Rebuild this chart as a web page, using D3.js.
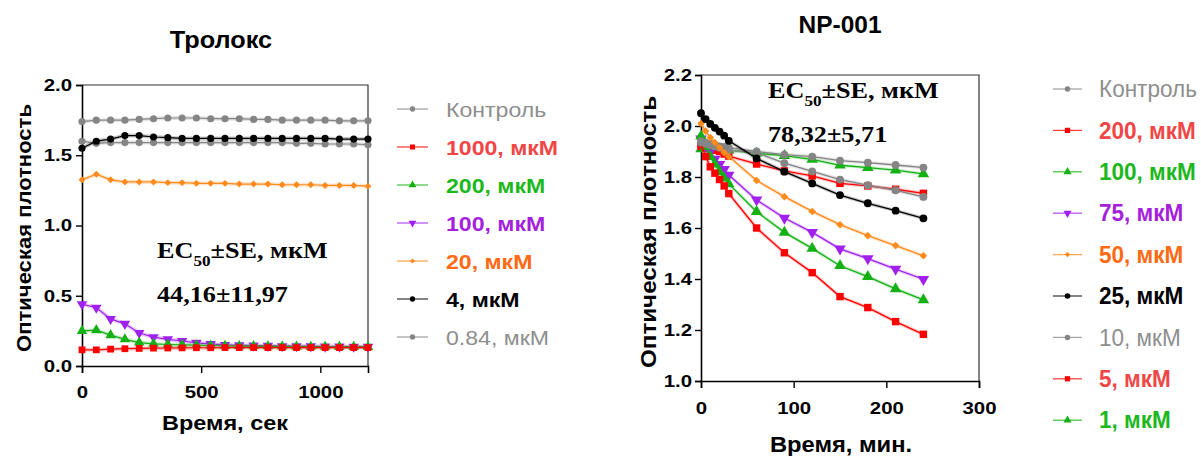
<!DOCTYPE html>
<html>
<head>
<meta charset="utf-8">
<script src="https://cdn.jsdelivr.net/npm/d3@7"></script>
<style>
  body { margin: 0; background: #fff; }
  svg { display: block; }
</style>
</head>
<body>
<svg id="chart" width="1201" height="456"></svg>
<script>
// ---------- Тролокс panel (time in seconds) ----------
const troloxTime = [0,60,120,180,240,300,360,420,480,540,600,660,720,780,840,900,960,1020,1080,1140,1200];
const troloxControl = [1.74,1.75,1.75,1.75,1.755,1.76,1.765,1.765,1.765,1.76,1.76,1.76,1.755,1.755,1.75,1.75,1.75,1.75,1.745,1.745,1.745];
const trolox1000 = [0.115,0.115,0.12,0.123,0.125,0.127,0.128,0.129,0.13,0.13,0.131,0.131,0.131,0.131,0.131,0.131,0.131,0.131,0.131,0.131,0.131];
const trolox200 = [0.25,0.255,0.22,0.19,0.167,0.158,0.153,0.15,0.148,0.146,0.144,0.142,0.141,0.14,0.139,0.138,0.137,0.137,0.136,0.136,0.135];
const trolox100 = [0.44,0.415,0.335,0.30,0.235,0.205,0.19,0.178,0.165,0.157,0.15,0.148,0.145,0.143,0.141,0.141,0.14,0.138,0.138,0.137,0.136];
const trolox20 = [1.325,1.365,1.325,1.31,1.31,1.31,1.305,1.305,1.30,1.30,1.30,1.295,1.295,1.295,1.29,1.29,1.29,1.285,1.285,1.285,1.28];
const trolox4 = [1.55,1.60,1.615,1.64,1.64,1.63,1.625,1.62,1.62,1.62,1.62,1.62,1.62,1.62,1.62,1.62,1.62,1.62,1.615,1.615,1.615];
const trolox084 = [1.60,1.585,1.59,1.59,1.59,1.59,1.59,1.59,1.59,1.59,1.59,1.59,1.59,1.59,1.59,1.585,1.585,1.58,1.58,1.58,1.575];
const troloxXTicks = [0, 500, 1000];
const troloxYTicks = [0, 0.5, 1.0, 1.5, 2.0];
const troloxLegend = ["Контроль", "1000, мкМ", "200, мкМ", "100, мкМ", "20, мкМ", "4, мкМ", "0.84, мкМ"];

// ---------- NP-001 panel (time in minutes) ----------
const npTime = [0,5,10,15,20,25,30,60,90,120,150,180,210,240];
const npControl = [1.94,1.935,1.93,1.925,1.92,1.918,1.915,1.90,1.888,1.88,1.864,1.856,1.847,1.837];
const np200 = [1.93,1.88,1.84,1.815,1.79,1.765,1.735,1.60,1.503,1.425,1.331,1.288,1.233,1.183];
const np100 = [1.96,1.92,1.88,1.85,1.82,1.795,1.773,1.664,1.583,1.52,1.452,1.409,1.361,1.318];
const np75 = [1.95,1.92,1.90,1.87,1.85,1.83,1.808,1.71,1.639,1.583,1.518,1.48,1.439,1.399];
const np50 = [2.01,1.98,1.955,1.935,1.915,1.895,1.88,1.786,1.723,1.665,1.613,1.57,1.531,1.491];
const np25 = [2.05,2.027,2.008,1.993,1.978,1.962,1.942,1.873,1.821,1.775,1.729,1.697,1.668,1.638];
const np10 = [1.935,1.93,1.925,1.92,1.915,1.91,1.905,1.895,1.854,1.822,1.79,1.768,1.748,1.722];
const np5 = [1.92,1.915,1.91,1.905,1.90,1.89,1.882,1.851,1.824,1.804,1.775,1.765,1.752,1.736];
const np1 = [1.91,1.915,1.915,1.91,1.91,1.905,1.905,1.893,1.884,1.869,1.846,1.837,1.827,1.812];
const npXTicks = [0, 100, 200, 300];
const npYTicks = [1.0, 1.2, 1.4, 1.6, 1.8, 2.0, 2.2];
const npLegend = ["Контроль", "200, мкМ", "100, мкМ", "75, мкМ", "50, мкМ", "25, мкМ", "10, мкМ", "5, мкМ", "1, мкМ"];

// ---------- styling ----------
const SANS = "'Liberation Sans', Arial, sans-serif";
const SERIF = "'Liberation Serif', 'Times New Roman', serif";
const col = {
  gray: "#858585", red: "#ff0000", green: "#14b014", purple: "#a020f0",
  orange: "#ff8a1c", black: "#000000"
};
const textCol = {
  gray: "#8e8e8e", red: "#f04646", green: "#1cb81c", purple: "#a51fdc",
  orange: "#ff6a12", black: "#000000"
};
const triDown = {
  draw(ctx, size) {
    const s = Math.sqrt(size / (Math.sqrt(3) / 4));
    const h = s * Math.sqrt(3) / 2;
    ctx.moveTo(-s / 2, -h / 3);
    ctx.lineTo(s / 2, -h / 3);
    ctx.lineTo(0, 2 * h / 3);
    ctx.closePath();
  }
};
const triUp = {
  draw(ctx, size) {
    const s = Math.sqrt(size / (Math.sqrt(3) / 4));
    const h = s * Math.sqrt(3) / 2;
    ctx.moveTo(-s / 2, h / 3);
    ctx.lineTo(s / 2, h / 3);
    ctx.lineTo(0, -2 * h / 3);
    ctx.closePath();
  }
};
// square rhombus (a square turned by 45°)
const rhombus = {
  draw(ctx, size) {
    const r = Math.sqrt(size / 2);
    ctx.moveTo(0, -r);
    ctx.lineTo(r, 0);
    ctx.lineTo(0, r);
    ctx.lineTo(-r, 0);
    ctx.closePath();
  }
};
const shapes = {
  circle: { type: d3.symbolCircle, k: 1 },
  square: { type: d3.symbolSquare, k: 1.15 },
  up: { type: triUp, k: 1.2 },
  down: { type: triDown, k: 1.2 },
  diamond: { type: rhombus, k: 0.6 }
};

const svg = d3.select("#chart");

// text with optional horizontal stretch
function label(parent, x, y, str, o) {
  const sx = o.sx || 1;
  const t = parent.append("text")
    .attr("transform", `translate(${x},${y}) scale(${sx},1)`)
    .attr("font-family", o.family || SANS)
    .attr("font-size", o.size)
    .attr("font-weight", o.weight || "bold")
    .attr("fill", o.fill || "#000")
    .attr("text-anchor", o.anchor || "start");
  if (o.rotate) t.attr("transform", `translate(${x},${y}) rotate(-90) scale(${sx},1)`);
  t.text(str);
  return t;
}

function panel(cfg) {
  const g = svg.append("g");
  const x = d3.scaleLinear().domain(cfg.xDomain).range([cfg.left, cfg.right]);
  const y = d3.scaleLinear().domain(cfg.yDomain).range([cfg.bottom, cfg.top]);

  // frame on top and right
  g.append("path")
    .attr("d", `M${cfg.left},${cfg.top}H${cfg.right}V${cfg.bottom}`)
    .attr("fill", "none").attr("stroke", "#333").attr("stroke-width", 1.2);

  // axes
  const yAx = g.append("g").attr("transform", `translate(${cfg.left},0)`)
    .call(d3.axisLeft(y).tickValues(cfg.yTicks).tickSize(6).tickFormat(d3.format(".1f")));
  const xAx = g.append("g").attr("transform", `translate(0,${cfg.bottom})`)
    .call(d3.axisBottom(x).tickValues(cfg.xTicks).tickSize(7).tickFormat(d3.format("d")));
  [yAx, xAx].forEach(a => {
    a.select(".domain").attr("stroke", "#000").attr("stroke-width", 1.6);
    a.selectAll(".tick line").attr("stroke", "#000").attr("stroke-width", 1.4);
    a.selectAll("text").attr("font-family", SANS).attr("font-weight", "bold")
      .attr("font-size", cfg.tickSize).attr("fill", "#000");
  });
  yAx.selectAll(".tick text")
    .attr("x", -cfg.yLabelGap / cfg.tickSx)
    .attr("transform", `scale(${cfg.tickSx},1)`);
  xAx.selectAll(".tick text")
    .attr("y", cfg.xLabelGap).attr("dy", "0.71em")
    .attr("transform", `scale(${cfg.tickSx},1)`);

  // series: halo, line, markers
  const line = d3.line().x((d, i) => x(cfg.time[i])).y(d => y(d));
  cfg.series.forEach(s => {
    g.append("path").datum(s.values).attr("d", line)
      .attr("fill", "none").attr("stroke", s.color).attr("stroke-opacity", 0.22)
      .attr("stroke-width", cfg.halo);
    g.append("path").datum(s.values).attr("d", line)
      .attr("fill", "none").attr("stroke", s.color).attr("stroke-width", cfg.lineW);
    const sh = shapes[s.shape];
    const sym = d3.symbol().type(sh.type).size(cfg.markArea * sh.k);
    g.selectAll(null).data(s.values).join("path")
      .attr("transform", (d, i) => `translate(${x(cfg.time[i])},${y(d)})`)
      .attr("d", sym).attr("fill", s.color);
  });

  // titles
  label(g, cfg.titleX, cfg.titleY, cfg.title, { size: cfg.titleSize, sx: cfg.titleSx, anchor: "middle" });
  label(g, cfg.xTitleX, cfg.xTitleY, cfg.xTitle, { size: cfg.axisTitleSize, sx: cfg.axisTitleSx, anchor: "middle" });
  label(g, cfg.yTitleX, cfg.yTitleY, "Оптическая плотность",
    { size: cfg.axisTitleSize, sx: cfg.yTitleSx, anchor: "middle", rotate: true });

  // EC50 note
  const ec = label(g, cfg.ecX, cfg.ecY, "", { size: 23, sx: cfg.ecSx, family: SERIF });
  ec.append("tspan").text("EC");
  ec.append("tspan").attr("font-size", 15).attr("dy", 8).text("50");
  ec.append("tspan").attr("dy", -8).text("±SE, мкМ");
  label(g, cfg.ecX, cfg.ecY2, cfg.ecValue, { size: 23, sx: cfg.ecSx, family: SERIF });

  // legend
  cfg.legend.forEach((name, i) => {
    const s = cfg.legendSeries[i];
    const cy = cfg.legTop + i * cfg.legStep;
    g.append("line")
      .attr("x1", cfg.legX).attr("x2", cfg.legX + cfg.legLen)
      .attr("y1", cy).attr("y2", cy)
      .attr("stroke", s.color).attr("stroke-width", 1.3).attr("stroke-opacity", 0.75);
    const sh = shapes[s.shape];
    g.append("path")
      .attr("transform", `translate(${cfg.legX + cfg.legLen / 2},${cy})`)
      .attr("d", d3.symbol().type(sh.type).size(cfg.legMark * sh.k)).attr("fill", s.color);
    label(g, cfg.legTextX, cy + cfg.legSize * 0.36, name, {
      size: cfg.legSize, sx: cfg.legSx, fill: textCol[s.key],
      weight: s.bold ? "bold" : "normal"
    });
  });
}

// Тролокс
const trSeries = {
  control: { values: troloxControl, color: col.gray, key: "gray", shape: "circle", bold: false },
  c1000: { values: trolox1000, color: col.red, key: "red", shape: "square", bold: true },
  c200: { values: trolox200, color: col.green, key: "green", shape: "up", bold: true },
  c100: { values: trolox100, color: col.purple, key: "purple", shape: "down", bold: true },
  c20: { values: trolox20, color: col.orange, key: "orange", shape: "diamond", bold: true },
  c4: { values: trolox4, color: col.black, key: "black", shape: "circle", bold: true },
  c084: { values: trolox084, color: col.gray, key: "gray", shape: "circle", bold: false }
};
panel({
  left: 82, right: 368, top: 85, bottom: 366,
  xDomain: [0, 1200], yDomain: [0, 2],
  xTicks: troloxXTicks, yTicks: troloxYTicks,
  tickSize: 17, tickSx: 1.2, yLabelGap: 10, xLabelGap: 20,
  time: troloxTime,
  series: [trSeries.control, trSeries.c084, trSeries.c4, trSeries.c20, trSeries.c100, trSeries.c200, trSeries.c1000],
  lineW: 1.2, halo: 4, markArea: 40,
  title: "Тролокс", titleX: 221, titleY: 48, titleSize: 23, titleSx: 1.1,
  xTitle: "Время, сек", xTitleX: 225, xTitleY: 430, axisTitleSize: 21, axisTitleSx: 1.12,
  yTitleX: 31, yTitleY: 228, yTitleSx: 1.05,
  ecX: 157, ecY: 258, ecY2: 302, ecValue: "44,16±11,97", ecSx: 1.14,
  legend: troloxLegend,
  legendSeries: [trSeries.control, trSeries.c1000, trSeries.c200, trSeries.c100, trSeries.c20, trSeries.c4, trSeries.c084],
  legX: 397, legLen: 31, legTextX: 446, legTop: 109, legStep: 38, legSize: 21, legSx: 1.1, legMark: 22
});

// NP-001
const npSeries = {
  control: { values: npControl, color: col.gray, key: "gray", shape: "circle", bold: false },
  c200: { values: np200, color: col.red, key: "red", shape: "square", bold: true },
  c100: { values: np100, color: col.green, key: "green", shape: "up", bold: true },
  c75: { values: np75, color: col.purple, key: "purple", shape: "down", bold: true },
  c50: { values: np50, color: col.orange, key: "orange", shape: "diamond", bold: true },
  c25: { values: np25, color: col.black, key: "black", shape: "circle", bold: true },
  c10: { values: np10, color: col.gray, key: "gray", shape: "circle", bold: false },
  c5: { values: np5, color: col.red, key: "red", shape: "square", bold: true },
  c1: { values: np1, color: col.green, key: "green", shape: "up", bold: true }
};
panel({
  left: 701, right: 979, top: 75, bottom: 381,
  xDomain: [0, 300], yDomain: [1.0, 2.2],
  xTicks: npXTicks, yTicks: npYTicks,
  tickSize: 17, tickSx: 1.2, yLabelGap: 9, xLabelGap: 21,
  time: npTime,
  series: [npSeries.c1, npSeries.c5, npSeries.c75, npSeries.c100, npSeries.c200, npSeries.c10, npSeries.control, npSeries.c50, npSeries.c25],
  lineW: 1.3, halo: 3.5, markArea: 48,
  title: "NP-001", titleX: 840, titleY: 33, titleSize: 24, titleSx: 1.02,
  xTitle: "Время, мин.", xTitleX: 841, xTitleY: 452, axisTitleSize: 22, axisTitleSx: 1.08,
  yTitleX: 656, yTitleY: 232, yTitleSx: 1.1,
  ecX: 768, ecY: 98, ecY2: 142, ecValue: "78,32±5,71", ecSx: 1.14,
  legend: npLegend,
  legendSeries: [npSeries.control, npSeries.c200, npSeries.c100, npSeries.c75, npSeries.c50, npSeries.c25, npSeries.c10, npSeries.c5, npSeries.c1],
  legX: 1053, legLen: 29, legTextX: 1099, legTop: 89, legStep: 41.4, legSize: 23, legSx: 0.98, legMark: 24
});
</script>
</body>
</html>
